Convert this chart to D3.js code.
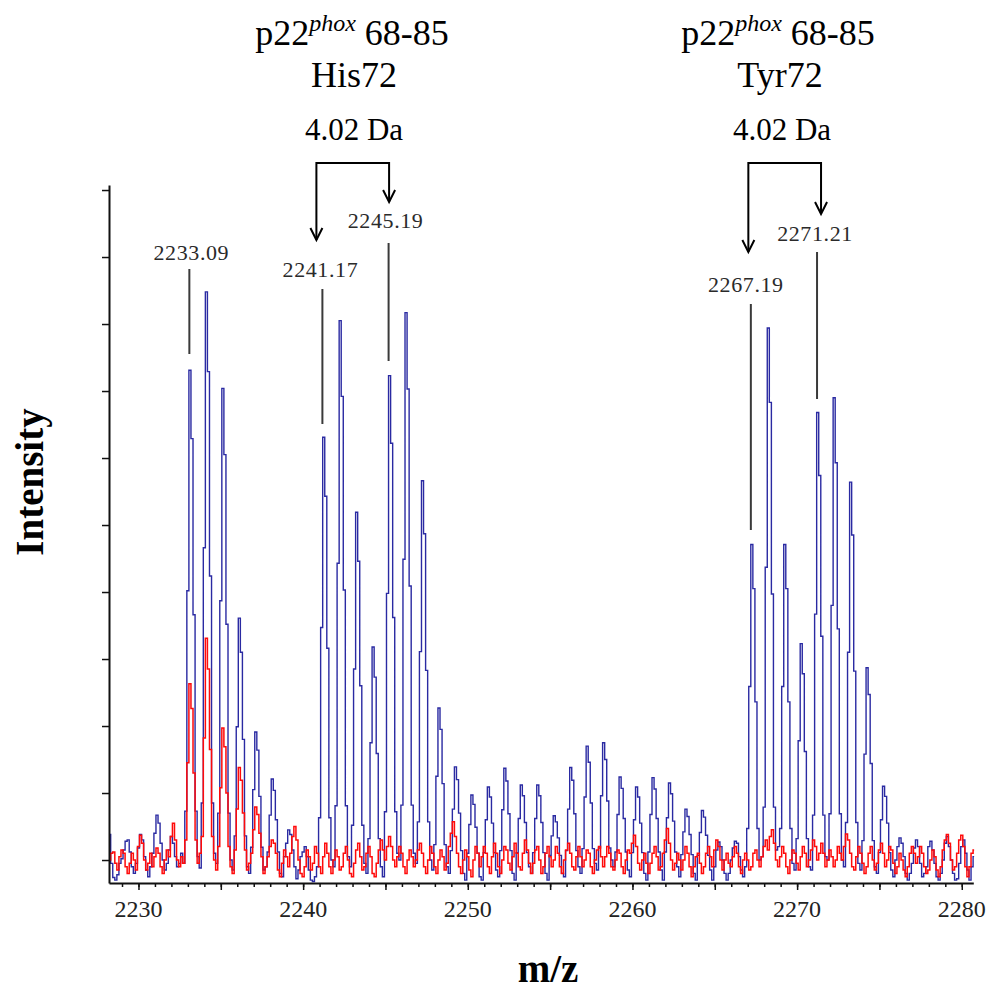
<!DOCTYPE html>
<html><head><meta charset="utf-8">
<script src="https://cdn.jsdelivr.net/npm/d3@7"></script>
<style>html,body{margin:0;padding:0;background:#fff;} svg{display:block;}</style>
</head><body>
<svg id="chart" width="1005" height="1008"></svg>
<script>
// ---------------- DATA ----------------
const mzStart = 2228.25;   // first sample (m/z)
const mzStep = 0.125;      // sampling interval (Da)

// heavy-labelled sample (blue), one row per Da
const blueIntensity = [
  0.38, -0.05, -0.26, -0.3, -0.22, -0.05,                 // 2228.25-
  0.02, 0.15, 0.28, 0.3, 0.12, -0.1, -0.2, -0.05,         // 2229
  0.18, 0.38, 0.3, 0.05, -0.15, -0.25, -0.1, 0.1,         // 2230
  0.4, 0.67, 0.55, 0.25, 0.0, -0.15, -0.05, 0.15,         // 2231
  0.35, 0.25, 0.05, -0.1, -0.05, 0.1, -0.05, 0.73,        // 2232
  4.02, 7.31, 6.29, 3.66, 0.73, 0.05, -0.12, 0.85,        // 2233
  4.66, 8.48, 7.29, 4.24, 0.85, 0.1, -0.05, 0.7,          // 2234
  3.87, 7.04, 6.05, 3.52, 0.7, 0.0, -0.15, 0.36,          // 2235
  1.99, 3.61, 3.1, 1.8, 0.36, -0.1, -0.2, 0.19,           // 2236
  1.05, 1.91, 1.64, 0.95, 0.19, -0.15, -0.1, 0.12,        // 2237
  0.67, 1.21, 1.04, 0.6, 0.12, -0.2, -0.25, 0.05,         // 2238
  0.25, 0.45, 0.38, 0.15, -0.1, -0.28, -0.15, 0.05,       // 2239
  0.12, 0.2, 0.05, -0.15, -0.3, -0.32, -0.25, -0.1,       // 2240
  0.63, 3.47, 6.31, 5.43, 3.16, 0.63, 0.0, -0.1,          // 2241
  0.81, 4.43, 8.05, 6.92, 4.03, 0.81, 0.05, -0.1,         // 2242
  0.52, 2.85, 5.19, 4.46, 2.6, 0.52, -0.05, -0.2,         // 2243
  0.32, 1.75, 3.18, 2.73, 1.59, 0.32, -0.1, -0.25,        // 2244
  0.72, 3.98, 7.23, 6.22, 3.62, 0.72, 0.1, 0.0,           // 2245
  0.82, 4.49, 8.17, 7.03, 4.09, 0.82, 0.1, -0.05,         // 2246
  0.57, 3.11, 5.66, 4.87, 2.83, 0.57, 0.0, -0.15,         // 2247
  0.23, 1.25, 2.27, 1.95, 1.14, 0.23, -0.1, -0.2,         // 2248
  0.14, 0.76, 1.39, 1.2, 0.7, 0.14, -0.2, -0.3,           // 2249
  0.1, 0.53, 0.97, 0.83, 0.49, 0.1, -0.25, -0.3,          // 2250
  0.11, 0.6, 1.09, 0.94, 0.55, 0.11, -0.15, -0.25,        // 2251
  0.14, 0.75, 1.37, 1.18, 0.69, 0.14, -0.2, -0.3,         // 2252
  0.11, 0.62, 1.12, 0.96, 0.56, 0.11, -0.1, -0.2,         // 2253
  0.11, 0.62, 1.12, 0.96, 0.56, 0.11, -0.2, -0.3,         // 2254
  0.07, 0.36, 0.66, 0.57, 0.33, 0.07, -0.2, -0.25,        // 2255
  0.14, 0.76, 1.38, 1.19, 0.69, 0.14, -0.1, -0.2,         // 2256
  0.17, 0.94, 1.7, 1.46, 0.85, 0.17, -0.05, -0.15,        // 2257
  0.18, 0.96, 1.75, 1.5, 0.88, 0.18, 0.0, -0.1,           // 2258
  0.12, 0.68, 1.24, 1.07, 0.62, 0.12, -0.15, -0.25,       // 2259
  0.11, 0.6, 1.09, 0.94, 0.55, 0.11, -0.2, -0.3,          // 2260
  0.12, 0.68, 1.23, 1.06, 0.62, 0.12, -0.15, -0.3,        // 2261
  0.12, 0.63, 1.15, 0.99, 0.58, 0.12, -0.1, -0.25,        // 2262
  0.08, 0.42, 0.76, 0.65, 0.38, 0.08, -0.2, -0.3,         // 2263
  0.07, 0.41, 0.74, 0.64, 0.37, 0.07, -0.15, -0.3,        // 2264
  -0.1, 0.15, 0.27, 0.2, 0.0, -0.2, -0.3, -0.2,           // 2265
  0.0, 0.18, 0.28, 0.25, 0.05, -0.15, -0.25, -0.1,        // 2266
  0.47, 2.59, 4.71, 4.05, 2.36, 0.47, 0.0, 0.05,          // 2267
  0.79, 4.37, 7.94, 6.83, 3.97, 0.79, 0.15, 0.2,          // 2268
  0.47, 2.59, 4.71, 4.05, 2.36, 0.47, -0.05, -0.15,       // 2269
  0.32, 1.78, 3.23, 2.78, 1.62, 0.32, -0.1, -0.15,        // 2270
  0.67, 3.67, 6.68, 5.74, 3.34, 0.67, 0.05, 0.0,          // 2271
  0.69, 3.8, 6.9, 5.93, 3.45, 0.69, 0.0, -0.1,            // 2272
  0.56, 3.1, 5.64, 4.85, 2.82, 0.56, -0.05, -0.15,        // 2273
  0.29, 1.58, 2.87, 2.47, 1.44, 0.29, -0.1, -0.2,         // 2274
  0.11, 0.6, 1.1, 0.95, 0.55, 0.11, -0.15, -0.25,         // 2275
  0.0, 0.2, 0.33, 0.25, 0.05, -0.2, -0.3, -0.2,           // 2276
  -0.05, 0.18, 0.3, 0.2, -0.05, -0.25, -0.2, -0.1,        // 2277
  0.2, 0.28, 0.15, -0.05, -0.25, -0.3, -0.2, 0.0,         // 2278
  0.25, 0.35, 0.2, 0.0, -0.2, -0.3, -0.28, -0.05,         // 2279
  0.2, 0.3, 0.1, -0.15, -0.3, -0.1, 0.05                  // 2280
];

// unlabelled sample (red)
const redIntensity = [
  0.0, 0.1, 0.12, -0.05, -0.15, 0.05,                     // 2228.25-
  0.15, 0.1, -0.1, -0.2, -0.05, 0.1, 0.0, -0.15,          // 2229
  0.2, 0.37, 0.25, 0.0, -0.15, -0.05, 0.1, -0.1,          // 2230
  0.05, 0.18, 0.1, -0.1, -0.2, 0.0, 0.15, 0.05,           // 2231
  0.35, 0.55, 0.3, 0.0, -0.1, 0.05, -0.05, 0.3,           // 2232
  1.45, 2.63, 2.26, 1.3, 0.3, -0.05, 0.1, 0.35,           // 2233
  1.82, 3.31, 2.85, 1.65, 0.35, 0.0, -0.15, 0.2,          // 2234
  1.08, 1.97, 1.69, 1.0, 0.2, -0.1, -0.2, 0.15,           // 2235
  0.76, 1.38, 1.19, 0.7, 0.15, -0.15, -0.05, 0.1,         // 2236
  0.45, 0.79, 0.68, 0.4, 0.05, -0.2, -0.1, 0.05,          // 2237
  0.2, 0.3, 0.25, 0.1, -0.15, -0.25, -0.05, 0.15,         // 2238
  0.05, -0.1, 0.1, 0.35, 0.5, 0.3, 0.0, -0.2,             // 2239
  -0.25, -0.1, 0.15, 0.05, -0.15, -0.05, 0.2, 0.1,        // 2240
  -0.1, -0.2, 0.05, 0.25, 0.1, -0.1, -0.2, 0.0,           // 2241
  0.15, 0.05, -0.15, -0.1, 0.1, 0.2, 0.0, -0.2,           // 2242
  -0.25, -0.05, 0.15, 0.25, 0.05, -0.15, -0.1, 0.1,       // 2243
  0.2, 0.05, -0.2, -0.25, -0.05, 0.15, 0.3, 0.15,         // 2244
  0.0, 0.2, 0.35, 0.2, 0.0, -0.1, 0.05, 0.2,              // 2245
  0.1, -0.1, -0.2, 0.0, 0.15, 0.05, -0.1, 0.0,            // 2246
  0.15, 0.25, 0.1, -0.1, -0.2, 0.0, 0.2, 0.1,             // 2247
  -0.1, -0.2, 0.0, 0.15, 0.05, -0.15, -0.05, 0.2,         // 2248
  0.4, 0.57, 0.35, 0.1, -0.1, -0.2, 0.0, 0.15,            // 2249
  0.05, -0.15, -0.25, 0.0, 0.2, 0.1, -0.1, 0.05,          // 2250
  0.2, 0.1, -0.1, -0.2, 0.05, 0.25, 0.1, -0.1,            // 2251
  -0.2, 0.0, 0.2, 0.15, -0.05, -0.15, 0.05, 0.25,         // 2252
  0.1, -0.1, -0.15, 0.1, 0.3, 0.15, -0.05, -0.2,          // 2253
  -0.05, 0.15, 0.2, 0.0, -0.2, -0.1, 0.1, 0.2,            // 2254
  0.05, -0.1, 0.0, 0.2, 0.1, -0.1, -0.2, 0.0,             // 2255
  0.15, 0.25, 0.1, -0.1, -0.15, 0.05, 0.2, 0.05,          // 2256
  -0.1, 0.0, 0.15, 0.1, -0.1, -0.2, 0.0, 0.15,            // 2257
  0.2, 0.05, -0.1, 0.05, 0.2, 0.1, -0.1, -0.15,           // 2258
  0.0, 0.15, 0.1, -0.1, -0.2, 0.0, 0.15, 0.1,             // 2259
  0.25, 0.37, 0.2, -0.05, -0.15, 0.0, 0.1, -0.05,         // 2260
  -0.2, -0.05, 0.1, 0.2, 0.05, -0.15, -0.1, 0.1,          // 2261
  0.3, 0.47, 0.25, 0.0, -0.15, -0.05, 0.1, 0.0,           // 2262
  -0.15, 0.0, 0.2, 0.1, -0.1, -0.25, -0.1, 0.05,          // 2263
  0.1, -0.05, -0.2, -0.1, 0.1, 0.2, 0.05, -0.1,           // 2264
  0.15, 0.3, 0.2, 0.0, -0.15, 0.0, 0.1, -0.05,            // 2265
  -0.1, 0.05, 0.2, 0.1, -0.1, -0.2, 0.0, 0.1,             // 2266
  0.0, -0.15, -0.1, 0.1, 0.15, 0.0, -0.1, 0.05,           // 2267
  0.2, 0.3, 0.15, 0.35, 0.45, 0.25, 0.0, -0.1,            // 2268
  0.05, 0.2, 0.1, -0.1, -0.2, 0.0, 0.15, 0.1,             // 2269
  -0.05, -0.15, 0.05, 0.2, 0.1, -0.1, 0.0, 0.15,          // 2270
  0.3, 0.2, 0.0, 0.1, 0.25, 0.1, -0.1, 0.0,               // 2271
  0.15, 0.05, -0.1, 0.0, 0.2, 0.1, 0.0, 0.2,              // 2272
  0.39, 0.3, 0.1, -0.1, -0.15, 0.05, 0.2, 0.1,            // 2273
  -0.05, -0.2, -0.1, 0.1, 0.2, 0.0, -0.15, -0.05,         // 2274
  0.15, 0.25, 0.1, -0.1, 0.0, 0.2, 0.15, -0.05,           // 2275
  -0.2, -0.1, 0.1, 0.0, -0.15, -0.25, -0.1, 0.1,          // 2276
  0.2, 0.1, -0.05, 0.05, 0.2, 0.1, -0.1, -0.2,            // 2277
  -0.15, 0.0, 0.15, 0.05, -0.15, -0.25, -0.1, 0.15,       // 2278
  0.3, 0.38, 0.25, 0.0, -0.15, -0.1, 0.1, 0.3,            // 2279
  0.37, 0.2, -0.1, -0.25, -0.1, 0.1, 0.15                 // 2280
];

const xTickLabels = [2230, 2240, 2250, 2260, 2270, 2280];
const yTickValues = [0, 1, 2, 3, 4, 5, 6, 7, 8, 9, 10];
const peakLabels = ["2233.09", "2241.17", "2245.19", "2267.19", "2271.21"];
const peakMz = [2233.09, 2241.17, 2245.19, 2267.19, 2271.21];
const groupNames = ["His72", "Tyr72"];
const groupPairs = [[2241.17, 2245.19], [2267.19, 2271.21]];
const peptideName = "p22", peptideSup = "phox", peptideRange = " 68-85";
const deltaLabel = "4.02 Da";
const xTitle = "m/z", yTitle = "Intensity";

// ---------------- LAYOUT ----------------
const SERIF = "'Liberation Serif', 'Times New Roman', Times, serif";
const svg = d3.select("#chart");
const x = d3.scaleLinear().domain([2228.21, 2280.7]).range([109, 973.3]);
const y = d3.scaleLinear().domain([-0.343, 10.075]).range([883, 185]);

const toPts = arr => arr.map((v, i) => [mzStart + i * mzStep, v]);
const line = d3.line().x(d => x(d[0])).y(d => y(d[1])).curve(d3.curveStep);

svg.append("path").datum(toPts(blueIntensity))
  .attr("d", line).attr("fill", "none")
  .attr("stroke", "#2a2aa2").attr("stroke-width", 1.4).attr("stroke-linejoin", "miter");
svg.append("path").datum(toPts(redIntensity))
  .attr("d", line).attr("fill", "none")
  .attr("stroke", "#ff0a0a").attr("stroke-width", 1.5);

// axes
const gy = svg.append("g").attr("transform", "translate(109,0)")
  .call(d3.axisLeft(y).tickValues(yTickValues).tickSize(7).tickSizeOuter(0).tickFormat(""));
gy.select(".domain").attr("stroke", "#111").attr("stroke-width", 2);
gy.selectAll(".tick line").attr("stroke", "#111").attr("stroke-width", 1.5);

const gxMinor = svg.append("g").attr("transform", "translate(0,883)")
  .call(d3.axisBottom(x).tickValues(d3.range(2229, 2281)).tickSize(4).tickSizeOuter(0).tickFormat(""));
gxMinor.select(".domain").attr("stroke", "#111").attr("stroke-width", 2);
gxMinor.selectAll(".tick line").attr("stroke", "#111").attr("stroke-width", 1.5);

const gxMajor = svg.append("g").attr("transform", "translate(0,883)")
  .call(d3.axisBottom(x).tickValues(d3.range(2230, 2281, 5)).tickSize(7).tickSizeOuter(0).tickFormat(""));
gxMajor.select(".domain").remove();
gxMajor.selectAll(".tick line").attr("stroke", "#111").attr("stroke-width", 1.5);

svg.append("g").selectAll("text").data(xTickLabels).join("text")
  .attr("x", d => x(d)).attr("y", 917)
  .attr("text-anchor", "middle")
  .style("font-family", SERIF).style("font-size", "24px").attr("fill", "#222")
  .text(d => d);

// axis titles
svg.append("text").attr("x", 548).attr("y", 982).attr("text-anchor", "middle")
  .style("font-family", SERIF).style("font-size", "39px").style("font-weight", "bold")
  .text(xTitle);
svg.append("text").attr("transform", "translate(43,482) rotate(-90)").attr("text-anchor", "middle")
  .style("font-family", SERIF).style("font-size", "39px").style("font-weight", "bold")
  .text(yTitle);

// peak annotations
const peakLayout = [
  {base: 260, top: 269, bottom: 354, dx: 2},
  {base: 277, top: 289, bottom: 424, dx: -2},
  {base: 228, top: 243, bottom: 361, dx: -3},
  {base: 292, top: 304, bottom: 530, dx: -5},
  {base: 241, top: 252, bottom: 399, dx: -2}
];
peakMz.forEach((m, i) => {
  const L = peakLayout[i];
  svg.append("line").attr("x1", x(m)).attr("x2", x(m)).attr("y1", L.top).attr("y2", L.bottom)
    .attr("stroke", "#3a3a3a").attr("stroke-width", 2);
  svg.append("text").attr("x", x(m) + L.dx).attr("y", L.base).attr("text-anchor", "middle")
    .style("font-family", SERIF).style("font-size", "22px").style("letter-spacing", "0.6px")
    .attr("fill", "#2a2a2a").text(peakLabels[i]);
});

// group titles and 4.02 Da brackets
const groupLayout = [
  {cx: 352, dcx: 354, dxL: -6, dxR: 0.5, tipL: 240, tipR: 202},
  {cx: 778, dcx: 782, dxL: -2.5, dxR: 4, tipL: 252, tipR: 214}
];
groupNames.forEach((g, i) => {
  const L = groupLayout[i];
  const t = svg.append("text").attr("x", L.cx).attr("y", 45).attr("text-anchor", "middle")
    .style("font-family", SERIF).style("font-size", "36px");
  t.append("tspan").text(peptideName);
  t.append("tspan").attr("dy", -14).style("font-style", "italic").style("font-size", "24px").text(peptideSup);
  t.append("tspan").attr("dy", 14).text(peptideRange);
  svg.append("text").attr("x", L.cx + 2).attr("y", 87).attr("text-anchor", "middle")
    .style("font-family", SERIF).style("font-size", "36px").text(g);
  svg.append("text").attr("x", L.dcx).attr("y", 140).attr("text-anchor", "middle")
    .style("font-family", SERIF).style("font-size", "31px").text(deltaLabel);
  const xl = x(groupPairs[i][0]) + L.dxL, xr = x(groupPairs[i][1]) + L.dxR;
  svg.append("path").attr("d", `M${xl},${L.tipL} V163 H${xr} V${L.tipR}`)
    .attr("fill", "none").attr("stroke", "#000").attr("stroke-width", 2);
  [[xl, L.tipL], [xr, L.tipR]].forEach(([ax, ay]) => {
    svg.append("path").attr("d", `M${ax - 6},${ay - 12} L${ax},${ay} L${ax + 6},${ay - 12}`)
      .attr("fill", "none").attr("stroke", "#000").attr("stroke-width", 2);
  });
});
</script>
</body></html>
